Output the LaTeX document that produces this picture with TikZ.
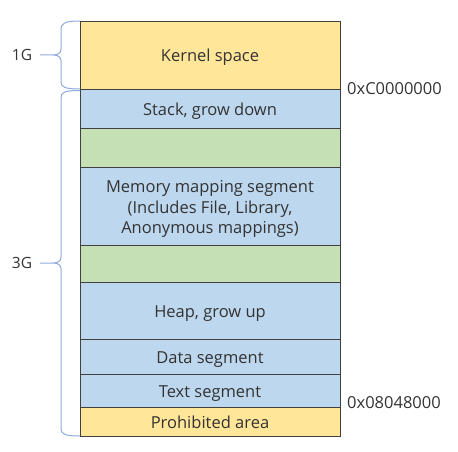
\documentclass[tikz,border=0pt]{standalone}
\usepackage{fontspec}
\setmainfont{Open Sans}
\usetikzlibrary{positioning}
\usetikzlibrary{calc}
\definecolor{kyellow}{HTML}{FFE699}
\definecolor{kblue}{HTML}{BDD7EE}
\definecolor{kgreen}{HTML}{C5E0B4}
\definecolor{kbrace}{HTML}{8FAADC}
\definecolor{ktext}{HTML}{333333}
\tikzset{seg/.style = {draw=black!75, line width=0.9pt, minimum width=260pt,
                       outer sep=0pt, inner sep=0pt, align=center, text=ktext,
                       text height=14pt, text depth=0pt,
                       font=\fontsize{16.5}{20.7}\selectfont},
         addr/.style = {anchor=west, inner sep=0pt, text=ktext,
                        font=\fontsize{16.5}{20.7}\selectfont},
         size/.style = {inner sep=0pt, text=ktext,
                        font=\fontsize{15.5}{20.5}\selectfont},
         brace/.style = {draw=kbrace, line width=1pt}}

\begin{document}
\begin{tikzpicture}[x=1pt, y=-1pt]
    \useasboundingbox (0, 0) rectangle (458, 452);

    \node [seg, fill=kyellow, minimum height=68pt] (kernel) at (210, 55) {Kernel space};
    \node [seg, fill=kblue, minimum height=39pt, below=0pt of kernel] (stack) {Stack, grow down};
    \node [seg, fill=kgreen, minimum height=39pt, below=0pt of stack] (gapa) {};
    \node [seg, fill=kblue, minimum height=78pt, text height=55.4pt, below=0pt of gapa] (mmap)
        {Memory mapping segment\\(Includes File, Library,\\Anonymous mappings)};
    \node [seg, fill=kgreen, minimum height=37pt, below=0pt of mmap] (gapb) {};
    \node [seg, fill=kblue, minimum height=57pt, below=0pt of gapb] (heap) {Heap, grow up};
    \node [seg, fill=kblue, minimum height=35pt, below=0pt of heap] (data) {Data segment};
    \node [seg, fill=kblue, minimum height=33pt, below=0pt of data] (txt) {Text segment};
    \node [seg, fill=kyellow, minimum height=29pt, below=0pt of txt] (prohib) {Prohibited area};

    \node [addr, right=7pt of kernel.south east] (high) {0xC0000000};
    \node [addr, right=7pt of txt.south east, yshift=4pt] (low) {0x08048000};

    \node [size] (onegb) at (22, 55) {1G};
    \node [size] (threegb) at (22, 263) {3G};

    % braces
    \draw [brace] (kernel.north west) .. controls +(-15, 0) and (61, 23) .. (61, 30)
        -- (61, 49) .. controls (61, 53) and (58, 55) .. (53, 55) -- (onegb.east -| 40, 0)
        (53, 55) .. controls (58, 55) and (61, 57) .. (61, 61)
        -- (61, 82) .. controls (61, 87) and (65, 89) .. (kernel.south west);
    \draw [brace] ([yshift=-1.5pt]stack.north west) .. controls +(-15, 0) and (61, 92) .. (61, 98)
        -- (61, 257) .. controls (61, 261) and (58, 263) .. (53, 263) -- (threegb.east -| 40, 0)
        (53, 263) .. controls (58, 263) and (61, 265) .. (61, 269)
        -- (61, 429) .. controls (61, 434) and (65, 436) .. (prohib.south west);
\end{tikzpicture}
\end{document}
